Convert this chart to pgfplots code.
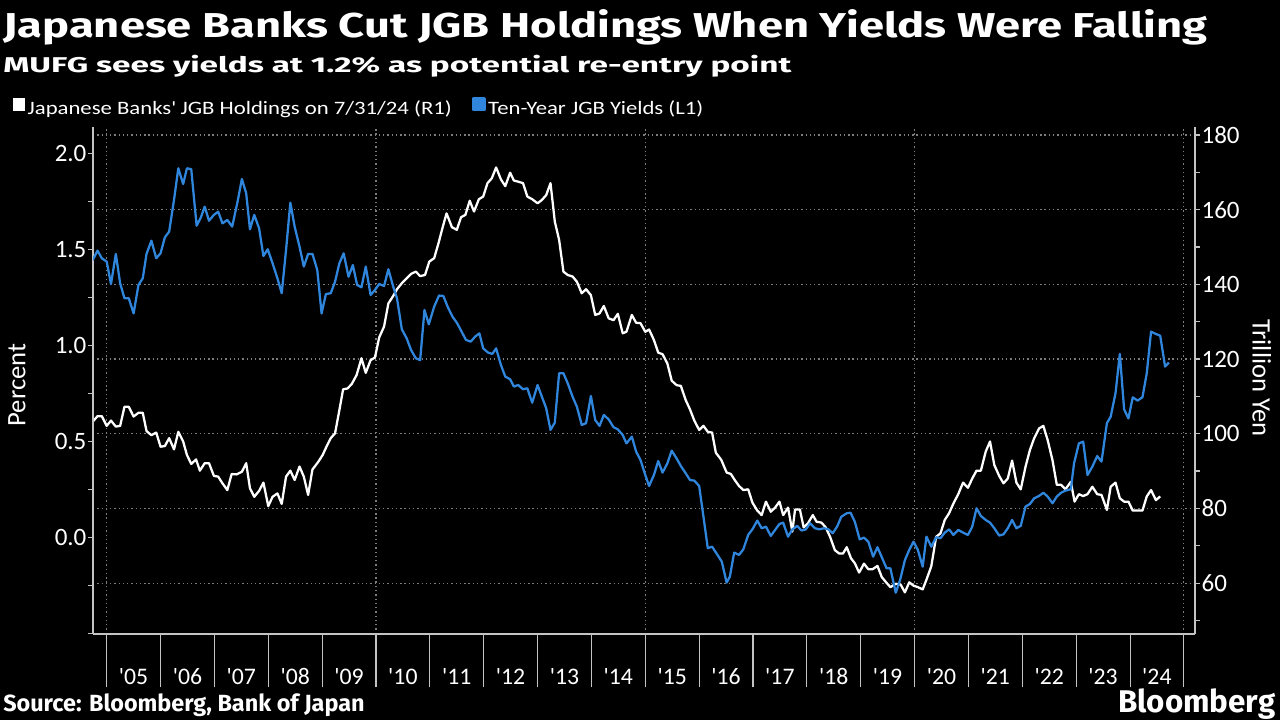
\documentclass[border=0pt]{standalone}
\usepackage{graphicx}
\usepackage{fontspec}
\setmainfont{Carlito}
\newfontfamily\titlefont{Fira Sans}
\newfontfamily\legfont[FakeStretch=1.2]{Carlito}
\usepackage{pgfplots}
\usepackage{pgfplotstable}
\pgfplotsset{compat=1.18}
\definecolor{jblue}{RGB}{47,134,220}
\definecolor{axisgray}{RGB}{195,195,195}
\definecolor{gridgray}{RGB}{125,125,125}

\pgfplotstableread{
year pct
2004.74 1.444
2004.83 1.493
2004.91 1.453
2005.00 1.436
2005.08 1.319
2005.17 1.476
2005.25 1.323
2005.33 1.245
2005.41 1.245
2005.50 1.166
2005.59 1.314
2005.67 1.349
2005.74 1.476
2005.83 1.545
2005.92 1.453
2006.00 1.479
2006.08 1.562
2006.16 1.592
2006.25 1.757
2006.33 1.922
2006.42 1.840
2006.49 1.922
2006.57 1.917
2006.67 1.623
2006.75 1.667
2006.82 1.722
2006.90 1.649
2006.99 1.679
2007.07 1.696
2007.15 1.635
2007.24 1.653
2007.33 1.618
2007.43 1.748
2007.51 1.866
2007.59 1.792
2007.66 1.604
2007.74 1.679
2007.83 1.609
2007.91 1.465
2007.99 1.500
2008.08 1.427
2008.17 1.349
2008.25 1.271
2008.33 1.496
2008.41 1.743
2008.49 1.618
2008.58 1.514
2008.66 1.410
2008.74 1.476
2008.82 1.476
2008.91 1.392
2008.99 1.166
2009.07 1.267
2009.16 1.271
2009.24 1.331
2009.32 1.427
2009.40 1.479
2009.49 1.357
2009.57 1.418
2009.65 1.314
2009.73 1.302
2009.81 1.410
2009.90 1.262
2009.98 1.288
2010.06 1.319
2010.15 1.309
2010.23 1.396
2010.32 1.305
2010.39 1.245
2010.48 1.083
2010.57 1.036
2010.65 0.976
2010.74 0.932
2010.82 0.923
2010.90 1.184
2010.98 1.109
2011.08 1.201
2011.17 1.259
2011.25 1.257
2011.33 1.201
2011.42 1.149
2011.50 1.118
2011.59 1.071
2011.67 1.028
2011.76 1.019
2011.84 1.045
2011.92 1.062
2011.99 0.984
2012.08 0.962
2012.16 0.955
2012.23 0.984
2012.32 0.897
2012.40 0.837
2012.49 0.823
2012.56 0.785
2012.64 0.793
2012.73 0.771
2012.81 0.776
2012.90 0.701
2013.00 0.793
2013.08 0.732
2013.16 0.672
2013.24 0.559
2013.32 0.597
2013.40 0.854
2013.48 0.854
2013.56 0.802
2013.65 0.732
2013.73 0.680
2013.82 0.585
2013.90 0.594
2013.99 0.736
2014.07 0.611
2014.15 0.580
2014.23 0.637
2014.32 0.614
2014.41 0.573
2014.49 0.562
2014.58 0.533
2014.65 0.489
2014.75 0.524
2014.83 0.446
2014.91 0.403
2015.00 0.324
2015.07 0.267
2015.16 0.324
2015.24 0.397
2015.32 0.337
2015.41 0.385
2015.49 0.451
2015.58 0.411
2015.66 0.371
2015.75 0.333
2015.83 0.298
2015.91 0.295
2016.00 0.267
2016.08 0.107
2016.16 -0.057
2016.24 -0.049
2016.34 -0.092
2016.42 -0.127
2016.51 -0.236
2016.57 -0.205
2016.65 -0.080
2016.74 -0.092
2016.82 -0.063
2016.91 0.012
2016.99 0.042
2017.08 0.087
2017.16 0.047
2017.24 0.055
2017.33 0.007
2017.41 0.038
2017.49 0.069
2017.56 0.076
2017.65 0.003
2017.73 0.041
2017.82 0.059
2017.90 0.035
2017.98 0.041
2018.06 0.073
2018.15 0.047
2018.23 0.041
2018.32 0.047
2018.40 0.041
2018.48 0.021
2018.56 0.055
2018.64 0.107
2018.74 0.125
2018.81 0.128
2018.89 0.081
2018.98 -0.011
2019.06 -0.002
2019.14 -0.023
2019.23 -0.101
2019.31 -0.052
2019.40 -0.110
2019.48 -0.162
2019.55 -0.162
2019.65 -0.289
2019.73 -0.223
2019.82 -0.119
2019.90 -0.066
2019.98 -0.023
2020.06 -0.066
2020.15 -0.153
2020.22 0.003
2020.31 -0.049
2020.40 0.000
2020.48 -0.005
2020.56 0.024
2020.64 0.041
2020.72 0.012
2020.81 0.038
2020.90 0.024
2020.99 0.012
2021.07 0.055
2021.15 0.151
2021.23 0.111
2021.32 0.090
2021.40 0.076
2021.48 0.047
2021.57 0.009
2021.65 0.015
2021.73 0.047
2021.81 0.090
2021.89 0.047
2021.97 0.059
2022.06 0.160
2022.14 0.173
2022.22 0.203
2022.31 0.215
2022.39 0.232
2022.47 0.212
2022.56 0.177
2022.64 0.212
2022.72 0.232
2022.80 0.243
2022.90 0.250
2022.96 0.385
2023.05 0.489
2023.13 0.498
2023.21 0.324
2023.30 0.368
2023.39 0.423
2023.47 0.394
2023.57 0.594
2023.64 0.628
2023.73 0.750
2023.81 0.955
2023.89 0.666
2023.97 0.619
2024.05 0.729
2024.14 0.712
2024.23 0.729
2024.31 0.854
2024.39 1.071
2024.48 1.059
2024.56 1.050
2024.65 0.889
2024.72 0.910
}\yields

\pgfplotstableread{
year tril
2004.74 103.2
2004.83 104.7
2004.91 104.7
2005.00 102.1
2005.08 103.5
2005.17 101.9
2005.25 102.1
2005.33 107.2
2005.41 107.2
2005.50 104.6
2005.59 105.6
2005.67 105.6
2005.74 100.7
2005.83 99.6
2005.92 100.3
2006.00 96.5
2006.08 96.7
2006.16 98.8
2006.25 95.8
2006.33 100.5
2006.42 97.9
2006.49 94.3
2006.57 91.9
2006.66 93.1
2006.73 90.1
2006.82 92.1
2006.90 92.1
2006.99 88.7
2007.07 88.5
2007.15 86.7
2007.24 84.9
2007.32 89.2
2007.41 89.1
2007.51 89.8
2007.59 92.1
2007.66 85.4
2007.74 83.1
2007.83 84.7
2007.91 86.9
2008.00 80.6
2008.08 83.1
2008.17 84.0
2008.25 81.2
2008.33 88.5
2008.41 90.1
2008.49 87.6
2008.58 91.2
2008.66 88.5
2008.74 83.6
2008.82 90.4
2008.93 92.5
2009.01 94.3
2009.08 96.5
2009.16 98.8
2009.24 100.1
2009.32 106.3
2009.39 111.9
2009.47 112.1
2009.55 113.3
2009.64 115.7
2009.73 120.2
2009.81 116.3
2009.90 119.7
2009.98 120.4
2010.06 125.8
2010.15 128.7
2010.23 134.9
2010.32 136.9
2010.39 138.7
2010.48 140.3
2010.57 141.6
2010.65 142.8
2010.74 143.4
2010.82 142.2
2010.91 142.5
2010.99 146.1
2011.08 147.0
2011.16 151.0
2011.24 155.4
2011.31 159.0
2011.41 155.3
2011.50 154.6
2011.58 158.0
2011.66 158.6
2011.74 162.4
2011.82 159.5
2011.91 162.8
2011.99 163.5
2012.07 167.1
2012.15 168.4
2012.23 171.3
2012.32 168.1
2012.40 166.3
2012.49 169.9
2012.56 167.8
2012.64 167.5
2012.73 167.1
2012.81 163.5
2012.90 162.8
2013.00 161.7
2013.08 162.6
2013.16 163.9
2013.24 167.1
2013.32 156.8
2013.40 151.9
2013.48 143.4
2013.56 142.5
2013.65 142.1
2013.73 140.7
2013.82 137.6
2013.90 138.7
2013.99 137.1
2014.07 131.8
2014.15 132.2
2014.23 134.2
2014.32 130.9
2014.41 130.4
2014.49 132.1
2014.58 126.9
2014.65 127.3
2014.75 131.8
2014.83 129.7
2014.91 129.6
2015.00 127.3
2015.07 127.9
2015.16 125.1
2015.24 121.7
2015.32 121.3
2015.41 118.8
2015.49 114.2
2015.58 113.0
2015.66 112.8
2015.75 109.0
2015.83 106.5
2015.91 103.5
2016.00 101.0
2016.08 102.1
2016.16 100.5
2016.24 100.3
2016.31 94.9
2016.41 93.0
2016.51 89.6
2016.59 89.2
2016.66 87.6
2016.74 86.0
2016.82 84.9
2016.91 85.1
2016.99 81.5
2017.08 79.4
2017.16 78.2
2017.24 81.8
2017.33 79.1
2017.41 80.2
2017.49 81.8
2017.56 78.2
2017.65 80.2
2017.73 73.8
2017.78 79.7
2017.87 79.7
2017.94 74.9
2018.02 76.0
2018.11 78.2
2018.18 76.4
2018.27 76.2
2018.35 74.9
2018.43 72.4
2018.52 68.8
2018.60 67.9
2018.67 67.9
2018.74 69.6
2018.82 66.6
2018.89 65.3
2018.97 62.8
2019.06 65.2
2019.14 63.7
2019.22 63.7
2019.31 64.6
2019.39 61.6
2019.47 60.2
2019.55 58.9
2019.65 59.8
2019.74 59.6
2019.82 57.5
2019.90 60.2
2019.98 59.3
2020.06 58.9
2020.15 58.3
2020.22 60.9
2020.31 64.5
2020.40 72.4
2020.48 73.3
2020.56 76.9
2020.64 78.7
2020.72 81.3
2020.81 83.8
2020.90 86.9
2020.99 85.5
2021.07 88.0
2021.15 90.1
2021.23 90.1
2021.32 95.2
2021.40 97.9
2021.48 91.6
2021.57 88.7
2021.65 86.7
2021.73 88.0
2021.81 92.8
2021.89 86.9
2021.97 85.1
2022.06 91.2
2022.14 95.6
2022.22 98.8
2022.31 101.4
2022.39 102.1
2022.47 98.3
2022.56 92.9
2022.64 86.3
2022.72 86.3
2022.80 85.1
2022.90 87.1
2022.97 81.8
2023.05 83.8
2023.13 83.3
2023.21 83.8
2023.30 85.8
2023.39 83.8
2023.47 83.6
2023.57 79.6
2023.64 85.8
2023.73 86.9
2023.81 82.7
2023.89 81.8
2023.97 81.8
2024.05 79.4
2024.14 79.4
2024.23 79.4
2024.31 83.2
2024.39 84.9
2024.48 82.2
2024.56 83.2
}\holdings

\pgfplotsset{
  chartgeom/.style={
    scale only axis, width=826.5pt, height=380.25pt,
    at={(69.75pt,-475.5pt)}, anchor=south west,
    xmin=2004.746, xmax=2025.206,
  },
}

\begin{document}
\begin{tikzpicture}
\fill[black] (0,0) rectangle (960pt,-540pt);
\useasboundingbox (0,0) rectangle (960pt,-540pt);

% Right axis: holdings (white), grids
\begin{axis}[chartgeom,
  ymin=46.35, ymax=182.14,
  axis y line*=right, axis x line*=bottom,
  axis line style={draw=axisgray, line width=0.8pt},
  xtick={2005,2010,2015,2020,2025}, xticklabels={}, xtick style={draw=none},
  xmajorgrids, ymajorgrids,
  ytick={60,80,...,180}, minor ytick={50,70,...,170},
  grid style={draw=gridgray, dash pattern=on 1pt off 2.2pt, line width=0.8pt},
  tick align=outside, major tick length=3.75pt, minor tick length=3.75pt,
  ytick style={draw=axisgray, line width=0.8pt},
  /pgf/number format/assume math mode=true,
  yticklabel style={text=white, font=\fontsize{18.75}{20}\selectfont, inner sep=1pt},
  ylabel={Trillion Yen},
  every axis y label/.style={at={(rel axis cs:1,0.505)}, xshift=50pt, anchor=center, rotate=-90, text=white, font=\fontsize{20}{24}\selectfont},
]
\addplot[white, line width=1.7pt, line join=round] table[x=year, y=tril] {\holdings};
\end{axis}

% Year separators and labels
\begin{axis}[chartgeom,
  ymin=0, ymax=1,
  hide y axis, axis x line*=bottom,
  x axis line style={draw=axisgray, line width=0.8pt},
  xtick={2005.5,2006.5,...,2024.5},
  xticklabels={\textquotesingle05,\textquotesingle06,\textquotesingle07,\textquotesingle08,\textquotesingle09,\textquotesingle10,\textquotesingle11,\textquotesingle12,\textquotesingle13,\textquotesingle14,\textquotesingle15,\textquotesingle16,\textquotesingle17,\textquotesingle18,\textquotesingle19,\textquotesingle20,\textquotesingle21,\textquotesingle22,\textquotesingle23,\textquotesingle24},
  minor xtick={2005,2006,...,2025},
  tick align=outside, major tick length=0pt, minor tick length=40pt,
  xtick style={draw=axisgray, line width=0.8pt},
  xticklabel style={text=white, font=\fontsize{17.8}{20}\selectfont, anchor=base, yshift=-38pt},
]
\end{axis}

% Left axis: yields (blue)
\begin{axis}[chartgeom,
  ymin=-0.504, ymax=2.137,
  axis y line*=left, axis x line=none,
  axis line style={draw=axisgray, line width=0.8pt},
  ytick={0,0.5,...,2}, minor ytick={-0.5,-0.25,0.25,0.75,1.25,1.75},
  tick align=outside, major tick length=3.75pt, minor tick length=3.75pt,
  ytick style={draw=axisgray, line width=0.8pt},
  /pgf/number format/assume math mode=true,
  yticklabel style={text=white, font=\fontsize{18.75}{20}\selectfont, inner sep=1pt,
    /pgf/number format/fixed, /pgf/number format/fixed zerofill, /pgf/number format/precision=1},
  ylabel={Percent},
  every axis y label/.style={at={(rel axis cs:0,0.491)}, xshift=-57pt, anchor=center, rotate=90, text=white, font=\fontsize{20}{24}\selectfont},
  legend columns=2,
  legend cell align=left,
  legend style={at={(-0.0765,1.064)}, anchor=north west, draw=none, fill=none,
    text=white, font=\legfont\fontsize{14.2}{16}\selectfont,
    /tikz/every even column/.append style={column sep=13pt}},
]
\addlegendimage{legend image code/.code={\fill[white] (0pt,-1pt) rectangle (8.6pt,7.6pt);}}
\addlegendentry{Japanese Banks\textquotesingle{} JGB Holdings on 7/31/24 (R1)}
\addplot[jblue, line width=1.7pt, line join=round,
  legend image code/.code={\fill[jblue] (0pt,-1pt) rectangle (8.6pt,7.6pt);}]
  table[x=year, y=pct] {\yields};
\addlegendentry{Ten-Year JGB Yields (L1)}
\end{axis}

\begin{scope}[x=0.75pt, y=-0.75pt]
\node[anchor=base west, inner sep=0pt, text=white] at (3,38)
  {\resizebox{903pt}{21pt}{\titlefont\bfseries Japanese Banks Cut JGB Holdings When Yields Were Falling}};
\node[anchor=base west, inner sep=0pt, text=white] at (3,73)
  {\resizebox{591pt}{13pt}{\titlefont\bfseries MUFG sees yields at 1.2\% as potential re-entry point}};
\node[anchor=base west, inner sep=0pt, text=white] at (3,711)
  {\resizebox{271pt}{!}{\titlefont\bfseries Source: Bloomberg, Bank of Japan}};
\node[anchor=base west, inner sep=0pt, text=white] at (1118,712)
  {\resizebox{117.75pt}{!}{\titlefont\bfseries Bloomberg}};
\end{scope}
\end{tikzpicture}
\end{document}
